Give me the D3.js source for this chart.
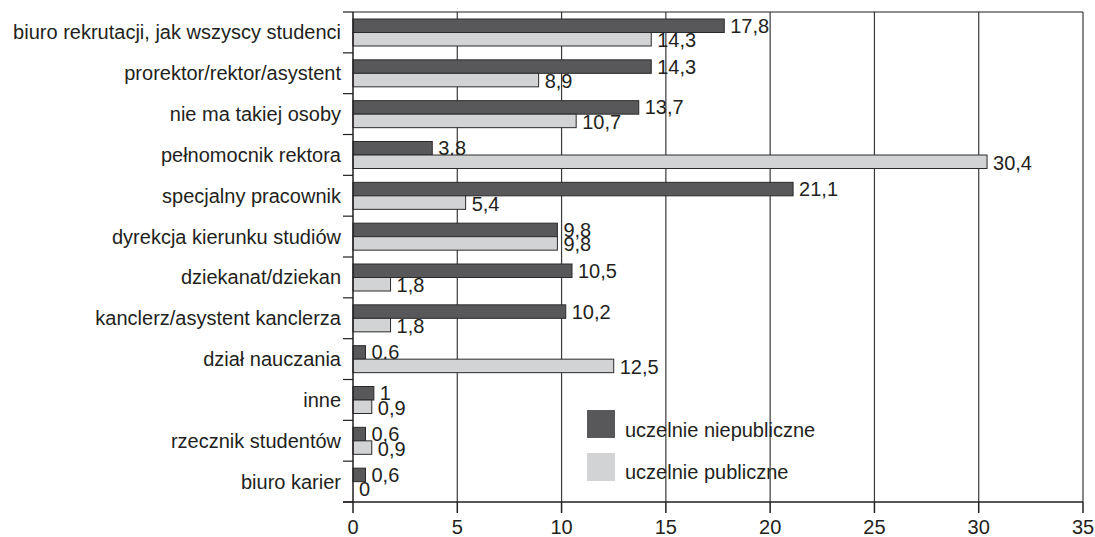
<!DOCTYPE html>
<html><head><meta charset="utf-8">
<script src="https://cdn.jsdelivr.net/npm/d3@7"></script>
<style>
html,body{margin:0;padding:0;background:#fff;}
svg text{font-family:"Liberation Sans",Arial,Helvetica,sans-serif;fill:#231f20;}
</style></head>
<body><svg id="c" width="1095" height="537"></svg>
<script>
const categories = ["biuro rekrutacji, jak wszyscy studenci","prorektor/rektor/asystent","nie ma takiej osoby","pełnomocnik rektora","specjalny pracownik","dyrekcja kierunku studiów","dziekanat/dziekan","kanclerz/asystent kanclerza","dział nauczania","inne","rzecznik studentów","biuro karier"];
const niepubliczne = [17.8,14.3,13.7,3.8,21.1,9.8,10.5,10.2,0.6,1,0.6,0.6];
const publiczne = [14.3,8.9,10.7,30.4,5.4,9.8,1.8,1.8,12.5,0.9,0.9,0];
const seriesNames = ["uczelnie niepubliczne","uczelnie publiczne"];
const xTicks = [0,5,10,15,20,25,30,35];

const colors = ["#58585a","#d2d3d5"];
const svg = d3.select("#c");
const L=353, R=1083, T=12, B=502;
const x = d3.scaleLinear().domain([0,35]).range([L,R]);
const y = d3.scaleBand().domain(categories).range([T,B]);
const bw = y.bandwidth();
const barH = 13.5, off = 7;
const fmt = v => String(v).replace('.',',');

// gridlines
svg.append("g").selectAll("line").data(xTicks.filter(t=>t>0)).join("line")
  .attr("x1",d=>x(d)).attr("x2",d=>x(d)).attr("y1",T).attr("y2",B)
  .attr("stroke","#3a3a3a").attr("stroke-width",1.2);
// top border
svg.append("line").attr("x1",L).attr("x2",R).attr("y1",T).attr("y2",T).attr("stroke","#231f20").attr("stroke-width",1.2);

const series = [niepubliczne, publiczne];
series.forEach((vals,si)=>{
  const g = svg.append("g");
  g.selectAll("rect").data(categories).join("rect")
    .attr("x",x(0)).attr("y",(d)=>y(d)+off+si*barH)
    .attr("width",(d,i)=>x(vals[i])-x(0)).attr("height",barH)
    .attr("fill",colors[si]).attr("stroke",(d,i)=>vals[i]>0?"#2a2a2a":"none").attr("stroke-width",1);
  g.selectAll("text").data(categories).join("text")
    .attr("x",(d,i)=>x(vals[i])+6)
    .attr("y",(d)=>y(d)+off+si*barH+barH/2+(si?1:0))
    .attr("dy","0.35em").attr("font-size",20)
    .text((d,i)=>fmt(vals[i]));
});

// left axis
const yAxis = svg.append("g");
yAxis.append("line").attr("x1",L).attr("x2",L).attr("y1",T).attr("y2",B).attr("stroke","#231f20").attr("stroke-width",1.5);
const bounds = categories.map(c=>y(c)).concat([B]);
yAxis.selectAll("line.t").data(bounds).join("line").attr("class","t")
  .attr("x1",L-10).attr("x2",L).attr("y1",d=>d).attr("y2",d=>d).attr("stroke","#231f20").attr("stroke-width",1.2);
yAxis.selectAll("text").data(categories).join("text")
  .attr("x",L-12).attr("y",d=>y(d)+bw/2).attr("dy","0.35em").attr("text-anchor","end").attr("font-size",20)
  .text(d=>d);

// bottom axis
const xAxis = svg.append("g");
xAxis.append("line").attr("x1",L-10).attr("x2",R).attr("y1",B).attr("y2",B).attr("stroke","#231f20").attr("stroke-width",1.5);
xAxis.selectAll("line.t").data(xTicks).join("line").attr("class","t")
  .attr("x1",d=>x(d)).attr("x2",d=>x(d)).attr("y1",B).attr("y2",B+11).attr("stroke","#231f20").attr("stroke-width",1.5);
xAxis.selectAll("text").data(xTicks).join("text")
  .attr("x",d=>x(d)).attr("y",534).attr("text-anchor","middle").attr("font-size",20)
  .text(d=>d);

// legend
const lg = svg.append("g");
seriesNames.forEach((n,i)=>{
  lg.append("rect").attr("x",587).attr("y",410+i*43).attr("width",28).attr("height",28).attr("fill",colors[i]);
  lg.append("text").attr("x",625).attr("y",437+i*42).attr("font-size",20).text(n);
});
</script></body></html>
